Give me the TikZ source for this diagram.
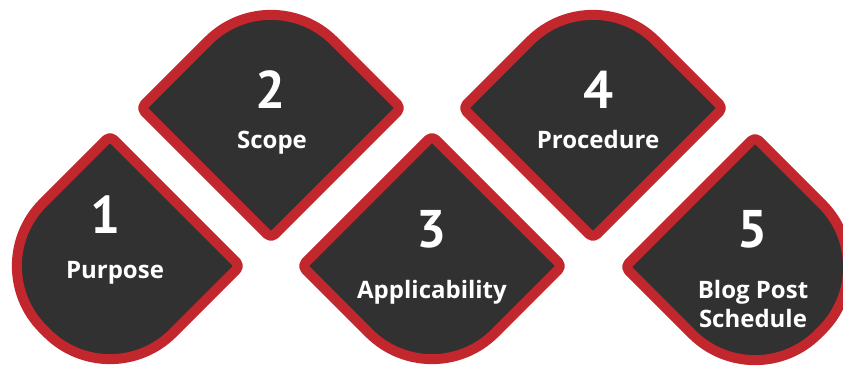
\documentclass[tikz,border=0pt]{standalone}
\usepackage{fontspec}
\setmainfont{PT Sans}
\newfontfamily\lblfont{Open Sans}
\usetikzlibrary{calc}
\definecolor{leafred}{HTML}{C1272D}
\definecolor{leafgray}{HTML}{313131}
\tikzset{
  leaf/.style={draw=leafred, fill=leafgray, line width=10pt, line join=round},
  num/.style={text=white, font=\bfseries\fontsize{53}{53}\selectfont, anchor=base, inner sep=0pt},
  lbl/.style={text=white, font=\lblfont\bfseries\fontsize{24}{29}\selectfont, anchor=base, inner sep=0pt, align=center}
}
% #1 cx, #2 cy, #3 h, #4 rT, #5 rR, #6 rB, #7 rL
\newcommand\leafshape[7]{%
  \coordinate (T) at (#1,#2-#3);
  \coordinate (R) at (#1+#3,#2);
  \coordinate (B) at (#1,#2+#3);
  \coordinate (L) at (#1-#3,#2);
  \draw[leaf] ($(L)!0.5!(T)$)
   -- ($(T)+(-#4*0.7071,#4*0.7071)$) .. controls ($(T)+(-#4*0.3166,#4*0.3166)$) and ($(T)+(#4*0.3166,#4*0.3166)$) .. ($(T)+(#4*0.7071,#4*0.7071)$)
   -- ($(R)+(-#5*0.7071,-#5*0.7071)$) .. controls ($(R)+(-#5*0.3166,-#5*0.3166)$) and ($(R)+(-#5*0.3166,#5*0.3166)$) .. ($(R)+(-#5*0.7071,#5*0.7071)$)
   -- ($(B)+(#6*0.7071,-#6*0.7071)$) .. controls ($(B)+(#6*0.3166,-#6*0.3166)$) and ($(B)+(-#6*0.3166,-#6*0.3166)$) .. ($(B)+(-#6*0.7071,-#6*0.7071)$)
   -- ($(L)+(#7*0.7071,#7*0.7071)$) .. controls ($(L)+(#7*0.3166,#7*0.3166)$) and ($(L)+(#7*0.3166,-#7*0.3166)$) .. ($(L)+(#7*0.7071,-#7*0.7071)$)
   -- cycle;
}
\begin{document}
\begin{tikzpicture}[x=1pt,y=-1pt]
\useasboundingbox (0,0) rectangle (843,367);
\leafshape{110}{266}{130}{5}{5}{89}{89}
\leafshape{271}{108}{130}{89}{5}{5}{5}
\leafshape{432}{266}{130}{5}{5}{89}{5}
\leafshape{593}{108}{130}{89}{5}{5}{5}
\leafshape{755}{267}{130}{5}{89}{89}{5}
\node[num] (n1) at (106,233) {1};
\node[lbl] (l1) at (115,278) {Purpose};
\node[num] (n2) at (271,108) {2};
\node[lbl] (l2) at (272,148) {Scope};
\node[num] (n3) at (432,247) {3};
\node[lbl] (l3) at (432,298) {Applicability};
\node[num] (n4) at (599,108) {4};
\node[lbl] (l4) at (598,148) {Procedure};
\node[num] (n5) at (753,247) {5};
\node[lbl] (l5a) at (753,298) {Blog Post};
\node[lbl] (l5b) at (753,327) {Schedule};
\end{tikzpicture}
\end{document}
